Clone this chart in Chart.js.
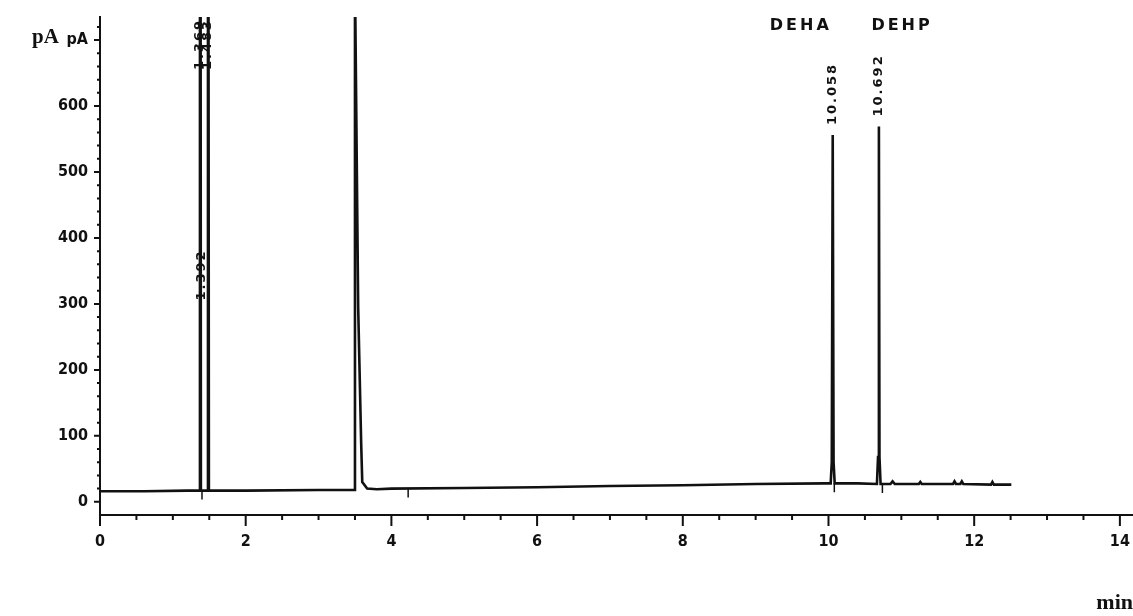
<!DOCTYPE html>
<html>
<head>
<meta charset="utf-8">
<title>GC chromatogram - DEHA / DEHP</title>
<script src="https://cdn.jsdelivr.net/npm/chart.js@4.4.1/dist/chart.umd.min.js"></script>
<style>
  html, body { margin: 0; padding: 0; background: #fff; }
  canvas { display: block; }
</style>
</head>
<body>
<canvas id="chrom" width="1133" height="616"></canvas>
<script>
// detector trace (min, pA)
const traceTime = [
  0.00, 0.60, 1.20, 1.36, 1.372, 1.385, 1.47, 1.482, 1.495,
  2.00, 3.00, 3.49, 3.50, 3.505, 3.544, 3.585, 3.60, 3.667, 3.80,
  4.00, 5.00, 6.00, 7.00, 8.00, 9.00, 9.95,
  10.03, 10.045, 10.058, 10.07, 10.085,
  10.40, 10.665, 10.68, 10.692, 10.70, 10.715,
  10.85, 10.88, 10.91, 11.24, 11.26, 11.28, 11.71, 11.73, 11.75,
  11.81, 11.83, 11.85, 12.23, 12.25, 12.27, 12.51
]
const traceSignal = [
  16, 16, 17, 17, 2500, 17, 17, 1800, 17,
  17, 18, 18, 760, 737, 295, 89, 30, 20, 19,
  20, 21, 22, 24, 25, 27, 28,
  28, 60, 556, 60, 28,
  28, 27, 68, 569, 68, 27,
  27, 31, 27, 27, 30, 27, 27, 31, 27,
  27, 31, 27, 26, 30, 26, 26
]

const xTickValues = [0, 2, 4, 6, 8, 10, 12, 14]
const xTickLabels = ['0', '2', '4', '6', '8', '10', '12', '14']
const yTickValues = [0, 100, 200, 300, 400, 500, 600, 700]
const yTickLabels = ['0', '100', '200', '300', '400', '500', '600', 'pA']

const peakTimes = [1.369, 1.392, 1.483, 10.058, 10.692]
const peakLabels = ['1.369', '1.392', '1.483', '10.058', '10.692']
const peakApex = [2500, 290, 1800, 556, 569]

const compoundNames = ['DEHA', 'DEHP']
const compoundTimes = [9.62, 11.01]

// integration start/stop marks under the baseline
const markerTimes = [1.40, 4.23, 10.08, 10.74]
const markerLevels = [17, 20, 28, 27]

const INK = '#111'
const AXIS_FONT = "'Liberation Sans Narrow', 'DejaVu Sans Condensed', sans-serif"
const LABEL_FONT = "'DejaVu Sans', sans-serif"
const SERIF = "'Liberation Serif', 'DejaVu Serif', serif"

const extras = {
  id: 'extras',
  afterDraw(chart) {
    const { ctx, chartArea, scales: { x, y } } = chart
    ctx.save()
    ctx.strokeStyle = INK
    ctx.fillStyle = INK

    // axis tick marks, majors longer
    ctx.lineWidth = 2
    ctx.beginPath()
    for (let v = 0; v <= 14; v += 0.5) {
      const px = x.getPixelForValue(v)
      const len = xTickValues.includes(v) ? 11 : 5
      ctx.moveTo(px, chartArea.bottom)
      ctx.lineTo(px, chartArea.bottom + len)
    }
    for (let v = 0; v <= 720; v += 20) {
      const py = y.getPixelForValue(v)
      const len = yTickValues.includes(v) ? 6 : 3
      ctx.moveTo(chartArea.left, py)
      ctx.lineTo(chartArea.left - len, py)
    }
    ctx.stroke()

    ctx.lineWidth = 1.5
    ctx.beginPath()
    markerTimes.forEach((t, i) => {
      const px = x.getPixelForValue(t)
      const py = y.getPixelForValue(markerLevels[i])
      ctx.moveTo(px, py)
      ctx.lineTo(px, py + 9)
    })
    ctx.stroke()

    // retention time labels, rotated
    ctx.font = `bold 13px ${LABEL_FONT}`
    ctx.letterSpacing = '2px'
    ctx.textAlign = 'left'
    ctx.textBaseline = 'middle'
    peakTimes.forEach((t, i) => {
      const px = x.getPixelForValue(t)
      const py = Math.max(y.getPixelForValue(peakApex[i]) - 10, chartArea.top + 53)
      ctx.save()
      ctx.translate(px, py)
      ctx.rotate(-Math.PI / 2)
      ctx.fillText(peakLabels[i], 0, 0)
      ctx.restore()
    })

    ctx.font = `bold 16px ${LABEL_FONT}`
    ctx.letterSpacing = '3px'
    ctx.textAlign = 'center'
    compoundNames.forEach((name, i) => {
      ctx.fillText(name, x.getPixelForValue(compoundTimes[i]), 26)
    })

    ctx.letterSpacing = '0px'
    ctx.font = `bold 21px ${SERIF}`
    ctx.textAlign = 'left'
    ctx.textBaseline = 'alphabetic'
    ctx.fillText('pA', 32, 43)
    ctx.font = `bold 22px ${SERIF}`
    ctx.textAlign = 'right'
    ctx.fillText('min', 1133, 609)
    ctx.restore()
  }
}

new Chart(document.getElementById('chrom'), {
  type: 'line',
  data: {
    datasets: [{
      data: traceTime.map((t, i) => ({ x: t, y: traceSignal[i] })),
      borderColor: INK,
      borderWidth: 2.6,
      pointRadius: 0,
      tension: 0,
      fill: false
    }]
  },
  options: {
    responsive: false,
    animation: false,
    layout: { padding: { top: 17, left: 0, right: 0, bottom: 0 } },
    plugins: { legend: { display: false }, tooltip: { enabled: false } },
    scales: {
      x: {
        type: 'linear',
        min: 0,
        max: 14.18,
        afterFit: s => {
          s.height = 101
          s.paddingLeft = 0
          s.paddingRight = 0
        },
        afterBuildTicks: s => { s.ticks = xTickValues.map(v => ({ value: v })) },
        grid: { display: false },
        border: { display: true, color: INK, width: 2 },
        ticks: {
          autoSkip: false,
          maxRotation: 0,
          padding: 9,
          color: INK,
          font: { family: AXIS_FONT, size: 16, weight: 'bold' },
          callback: v => xTickLabels[xTickValues.indexOf(v)]
        }
      },
      y: {
        type: 'linear',
        min: -20,
        max: 735,
        afterFit: s => {
          s.width = 100
          s.paddingTop = 0
          s.paddingBottom = 0
        },
        afterBuildTicks: s => { s.ticks = yTickValues.map(v => ({ value: v })) },
        grid: { display: false },
        border: { display: true, color: INK, width: 2 },
        ticks: {
          autoSkip: false,
          padding: 4,
          color: INK,
          font: { family: AXIS_FONT, size: 16, weight: 'bold' },
          callback: v => yTickLabels[yTickValues.indexOf(v)]
        }
      }
    }
  },
  plugins: [extras]
})
</script>
</body>
</html>
